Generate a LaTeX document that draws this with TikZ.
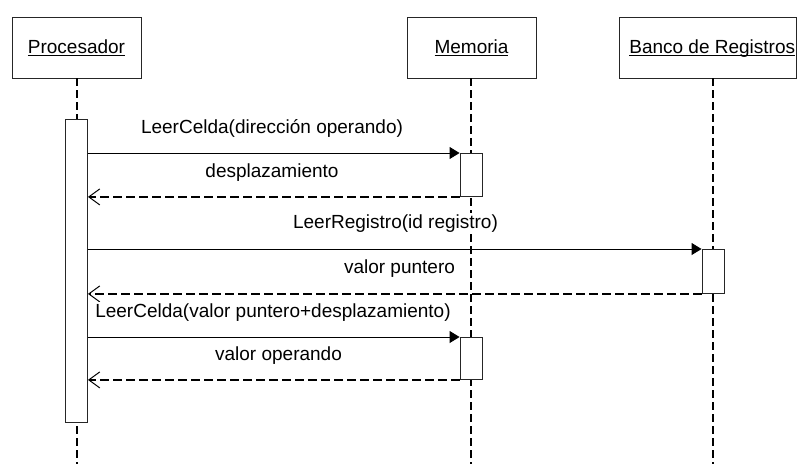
\documentclass[tikz,border=0pt]{standalone}
\usepackage{fontspec}
\setmainfont{Liberation Sans}
\usetikzlibrary{arrows.meta}
\newcommand\myul[1]{\setbox0\hbox{#1}\rlap{\rule[-2.2pt]{\wd0}{0.9pt}}\box0}
\begin{document}
\begin{tikzpicture}[x=1pt,y=-1pt,
  every node/.style={font=\fontsize{19}{22}\selectfont},
  obj/.style={draw=black!85, line width=0.9pt, minimum height=61pt, inner sep=0pt, text height=14pt, text depth=2pt},
  life/.style={line width=2pt, dash pattern=on 8pt off 4pt},
  act/.style={draw=black!85, fill=white, line width=0.9pt, minimum width=22pt, inner sep=0pt, anchor=north},
  call/.style={line width=0.9pt, -{Triangle[length=10pt,width=12pt]}},
  ret/.style={line width=2pt, dash pattern=on 9pt off 4pt, -{Straight Barb[length=11pt,width=16pt,line width=1pt]}},
  msg/.style={anchor=base, inner sep=1.5pt, fill=white}]
\useasboundingbox (0,0) rectangle (797,464);
% objects
\node[obj, minimum width=129pt] (P) at (76.5,47.5) {\myul{Procesador}};
\node[obj, minimum width=129pt] (M) at (471.5,47.5) {\myul{Memoria}};
\node[obj, minimum width=177.5pt] (B) at (707.75,47.5) {\hspace*{9pt}\myul{Banco de Registros}};
% lifelines
\coordinate (Pend) at (76.5,464);
\coordinate (Mend) at (471,464);
\coordinate (Bend) at (713,464);
\draw[life] (P.south) -- (Pend);
\draw[life] (M.south -| Mend) -- (Mend);
\draw[life] (B.south -| Bend) -- (Bend);
% activations
\node[act, minimum height=303pt] (aP) at (76.5,119) {};
\node[act, minimum height=43pt] (aM1) at (471,153) {};
\node[act, minimum height=44pt] (aB) at (713,249) {};
\node[act, minimum height=42pt] (aM2) at (471,337) {};
% messages
\draw[call] (aP.east |- aM1.north west) -- (aM1.north west);
\draw[ret] (aM1.south west) -- (aP.east |- aM1.south west);
\draw[call] (aP.east |- aB.north west) -- (aB.north west);
\draw[ret] (aB.south west) -- (aP.east |- aB.south west);
\draw[call] (aP.east |- aM2.north west) -- (aM2.north west);
\draw[ret] (aM2.south west) -- (aP.east |- aM2.south west);
% labels
\node[msg] (t1) at (272,133) {LeerCelda(dirección operando)};
\node[msg] (t2) at (272,177) {desplazamiento};
\node[msg] (t3) at (395.5,228.5) {LeerRegistro(id registro)};
\node[msg] (t4) at (399.5,273) {valor puntero};
\node[msg] (t5) at (273,317) {LeerCelda(valor puntero+desplazamiento)};
\node[msg] (t6) at (278.5,360) {valor operando};
\end{tikzpicture}
\end{document}
